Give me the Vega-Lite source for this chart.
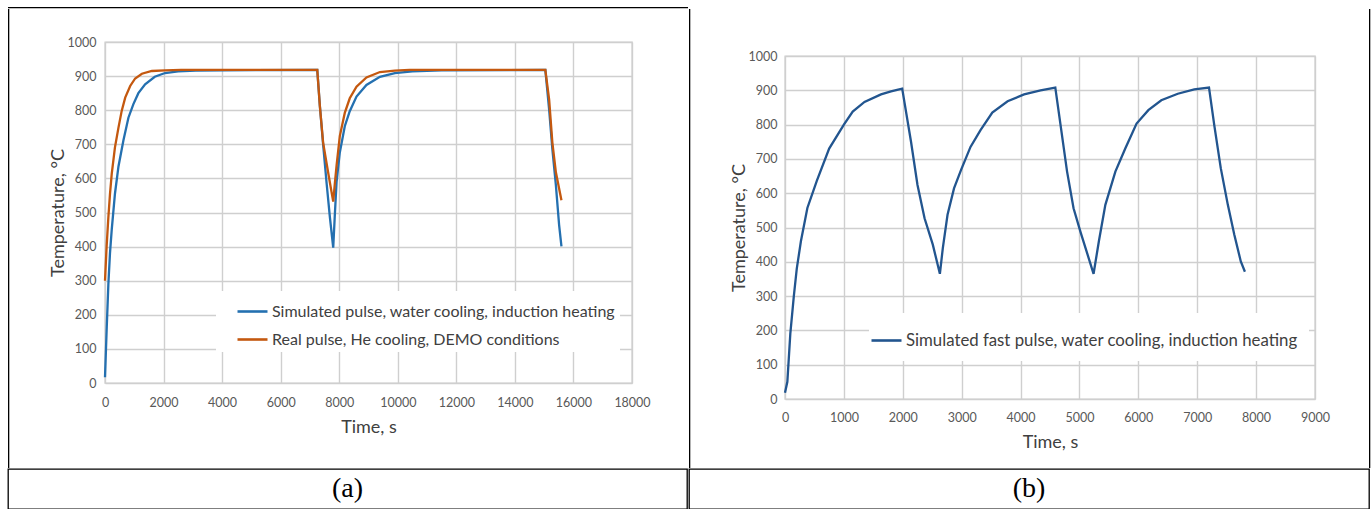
{
  "$schema": "https://vega.github.io/schema/vega-lite/v6.json",
  "autosize": {"type": "pad"},
  "padding": {"left": 7, "top": 7, "right": 0, "bottom": 0},
  "background": "white",
  "config": {
    "font": "Lato",
    "view": {"stroke": "#cfcfcf", "strokeWidth": 1.4},
    "axis": {
      "grid": true, "gridColor": "#cfcfcf", "gridWidth": 1.4,
      "domain": false, "ticks": false, "labelFlush": false,
      "labelColor": "#595959", "labelFont": "Lato", "labelFontSize": 12.5,
      "titleFont": "Lato", "titleFontSize": 18, "titleFontWeight": "normal", "titleColor": "#404040"
    },
    "legend": {
      "labelFont": "Lato", "labelFontSize": 16, "labelColor": "#404040", "labelLimit": 600,
      "symbolType": "stroke", "symbolStrokeWidth": 2.6, "fillColor": "white", "title": null
    }
  },
  "datasets": {
    "a": [
      {"series": "Simulated pulse, water cooling, induction heating", "time": 0, "temp": 17},
      {"series": "Simulated pulse, water cooling, induction heating", "time": 30, "temp": 90},
      {"series": "Simulated pulse, water cooling, induction heating", "time": 60, "temp": 165},
      {"series": "Simulated pulse, water cooling, induction heating", "time": 115, "temp": 290},
      {"series": "Simulated pulse, water cooling, induction heating", "time": 170, "temp": 380},
      {"series": "Simulated pulse, water cooling, induction heating", "time": 230, "temp": 450},
      {"series": "Simulated pulse, water cooling, induction heating", "time": 340, "temp": 555},
      {"series": "Simulated pulse, water cooling, induction heating", "time": 460, "temp": 635},
      {"series": "Simulated pulse, water cooling, induction heating", "time": 630, "temp": 712},
      {"series": "Simulated pulse, water cooling, induction heating", "time": 800, "temp": 778},
      {"series": "Simulated pulse, water cooling, induction heating", "time": 970, "temp": 818},
      {"series": "Simulated pulse, water cooling, induction heating", "time": 1140, "temp": 850},
      {"series": "Simulated pulse, water cooling, induction heating", "time": 1370, "temp": 876},
      {"series": "Simulated pulse, water cooling, induction heating", "time": 1700, "temp": 898},
      {"series": "Simulated pulse, water cooling, induction heating", "time": 2050, "temp": 909},
      {"series": "Simulated pulse, water cooling, induction heating", "time": 2500, "temp": 914},
      {"series": "Simulated pulse, water cooling, induction heating", "time": 3100, "temp": 916},
      {"series": "Simulated pulse, water cooling, induction heating", "time": 4000, "temp": 917},
      {"series": "Simulated pulse, water cooling, induction heating", "time": 7250, "temp": 918},
      {"series": "Simulated pulse, water cooling, induction heating", "time": 7340, "temp": 811},
      {"series": "Simulated pulse, water cooling, induction heating", "time": 7450, "temp": 700},
      {"series": "Simulated pulse, water cooling, induction heating", "time": 7570, "temp": 585},
      {"series": "Simulated pulse, water cooling, induction heating", "time": 7680, "temp": 487},
      {"series": "Simulated pulse, water cooling, induction heating", "time": 7795, "temp": 397},
      {"series": "Simulated pulse, water cooling, induction heating", "time": 7850, "temp": 493},
      {"series": "Simulated pulse, water cooling, induction heating", "time": 7910, "temp": 590},
      {"series": "Simulated pulse, water cooling, induction heating", "time": 8020, "temp": 676},
      {"series": "Simulated pulse, water cooling, induction heating", "time": 8190, "temp": 753},
      {"series": "Simulated pulse, water cooling, induction heating", "time": 8360, "temp": 797},
      {"series": "Simulated pulse, water cooling, induction heating", "time": 8590, "temp": 840},
      {"series": "Simulated pulse, water cooling, induction heating", "time": 8930, "temp": 874},
      {"series": "Simulated pulse, water cooling, induction heating", "time": 9390, "temp": 898},
      {"series": "Simulated pulse, water cooling, induction heating", "time": 9900, "temp": 909},
      {"series": "Simulated pulse, water cooling, induction heating", "time": 10500, "temp": 914},
      {"series": "Simulated pulse, water cooling, induction heating", "time": 11500, "temp": 917},
      {"series": "Simulated pulse, water cooling, induction heating", "time": 15040, "temp": 918},
      {"series": "Simulated pulse, water cooling, induction heating", "time": 15170, "temp": 802},
      {"series": "Simulated pulse, water cooling, induction heating", "time": 15280, "temp": 686},
      {"series": "Simulated pulse, water cooling, induction heating", "time": 15400, "temp": 580},
      {"series": "Simulated pulse, water cooling, induction heating", "time": 15510, "temp": 464},
      {"series": "Simulated pulse, water cooling, induction heating", "time": 15590, "temp": 401},
      {"series": "Real pulse, He cooling, DEMO conditions", "time": 0, "temp": 300},
      {"series": "Real pulse, He cooling, DEMO conditions", "time": 55, "temp": 400},
      {"series": "Real pulse, He cooling, DEMO conditions", "time": 115, "temp": 486},
      {"series": "Real pulse, He cooling, DEMO conditions", "time": 170, "temp": 554},
      {"series": "Real pulse, He cooling, DEMO conditions", "time": 230, "temp": 613},
      {"series": "Real pulse, He cooling, DEMO conditions", "time": 340, "temp": 691},
      {"series": "Real pulse, He cooling, DEMO conditions", "time": 460, "temp": 749},
      {"series": "Real pulse, He cooling, DEMO conditions", "time": 570, "temp": 798},
      {"series": "Real pulse, He cooling, DEMO conditions", "time": 690, "temp": 837},
      {"series": "Real pulse, He cooling, DEMO conditions", "time": 860, "temp": 871},
      {"series": "Real pulse, He cooling, DEMO conditions", "time": 1030, "temp": 893},
      {"series": "Real pulse, He cooling, DEMO conditions", "time": 1260, "temp": 907},
      {"series": "Real pulse, He cooling, DEMO conditions", "time": 1600, "temp": 915},
      {"series": "Real pulse, He cooling, DEMO conditions", "time": 2050, "temp": 917},
      {"series": "Real pulse, He cooling, DEMO conditions", "time": 2600, "temp": 918},
      {"series": "Real pulse, He cooling, DEMO conditions", "time": 7250, "temp": 918},
      {"series": "Real pulse, He cooling, DEMO conditions", "time": 7340, "temp": 811},
      {"series": "Real pulse, He cooling, DEMO conditions", "time": 7450, "temp": 705},
      {"series": "Real pulse, He cooling, DEMO conditions", "time": 7620, "temp": 618},
      {"series": "Real pulse, He cooling, DEMO conditions", "time": 7795, "temp": 532},
      {"series": "Real pulse, He cooling, DEMO conditions", "time": 7850, "temp": 585},
      {"series": "Real pulse, He cooling, DEMO conditions", "time": 7910, "temp": 638},
      {"series": "Real pulse, He cooling, DEMO conditions", "time": 8020, "temp": 724},
      {"series": "Real pulse, He cooling, DEMO conditions", "time": 8190, "temp": 792},
      {"series": "Real pulse, He cooling, DEMO conditions", "time": 8360, "temp": 835},
      {"series": "Real pulse, He cooling, DEMO conditions", "time": 8590, "temp": 869},
      {"series": "Real pulse, He cooling, DEMO conditions", "time": 8930, "temp": 896},
      {"series": "Real pulse, He cooling, DEMO conditions", "time": 9390, "temp": 912},
      {"series": "Real pulse, He cooling, DEMO conditions", "time": 9900, "temp": 916},
      {"series": "Real pulse, He cooling, DEMO conditions", "time": 10400, "temp": 918},
      {"series": "Real pulse, He cooling, DEMO conditions", "time": 15040, "temp": 918},
      {"series": "Real pulse, He cooling, DEMO conditions", "time": 15170, "temp": 831},
      {"series": "Real pulse, He cooling, DEMO conditions", "time": 15280, "temp": 705},
      {"series": "Real pulse, He cooling, DEMO conditions", "time": 15400, "temp": 618},
      {"series": "Real pulse, He cooling, DEMO conditions", "time": 15590, "temp": 536}
    ],
    "b": [
      {"series": "Simulated fast pulse, water cooling, induction heating", "time": 0, "temp": 18},
      {"series": "Simulated fast pulse, water cooling, induction heating", "time": 40, "temp": 50},
      {"series": "Simulated fast pulse, water cooling, induction heating", "time": 90, "temp": 190},
      {"series": "Simulated fast pulse, water cooling, induction heating", "time": 150, "temp": 300},
      {"series": "Simulated fast pulse, water cooling, induction heating", "time": 200, "temp": 380},
      {"series": "Simulated fast pulse, water cooling, induction heating", "time": 270, "temp": 460},
      {"series": "Simulated fast pulse, water cooling, induction heating", "time": 380, "temp": 557},
      {"series": "Simulated fast pulse, water cooling, induction heating", "time": 540, "temp": 636},
      {"series": "Simulated fast pulse, water cooling, induction heating", "time": 750, "temp": 730},
      {"series": "Simulated fast pulse, water cooling, induction heating", "time": 1000, "temp": 800},
      {"series": "Simulated fast pulse, water cooling, induction heating", "time": 1150, "temp": 838},
      {"series": "Simulated fast pulse, water cooling, induction heating", "time": 1350, "temp": 866},
      {"series": "Simulated fast pulse, water cooling, induction heating", "time": 1630, "temp": 888},
      {"series": "Simulated fast pulse, water cooling, induction heating", "time": 1800, "temp": 897},
      {"series": "Simulated fast pulse, water cooling, induction heating", "time": 1990, "temp": 905},
      {"series": "Simulated fast pulse, water cooling, induction heating", "time": 2140, "temp": 750},
      {"series": "Simulated fast pulse, water cooling, induction heating", "time": 2250, "temp": 624},
      {"series": "Simulated fast pulse, water cooling, induction heating", "time": 2370, "temp": 527},
      {"series": "Simulated fast pulse, water cooling, induction heating", "time": 2510, "temp": 450},
      {"series": "Simulated fast pulse, water cooling, induction heating", "time": 2630, "temp": 365},
      {"series": "Simulated fast pulse, water cooling, induction heating", "time": 2680, "temp": 440},
      {"series": "Simulated fast pulse, water cooling, induction heating", "time": 2760, "temp": 537},
      {"series": "Simulated fast pulse, water cooling, induction heating", "time": 2870, "temp": 614},
      {"series": "Simulated fast pulse, water cooling, induction heating", "time": 2990, "temp": 668},
      {"series": "Simulated fast pulse, water cooling, induction heating", "time": 3150, "temp": 735},
      {"series": "Simulated fast pulse, water cooling, induction heating", "time": 3320, "temp": 784},
      {"series": "Simulated fast pulse, water cooling, induction heating", "time": 3520, "temp": 835},
      {"series": "Simulated fast pulse, water cooling, induction heating", "time": 3780, "temp": 868},
      {"series": "Simulated fast pulse, water cooling, induction heating", "time": 4060, "temp": 888},
      {"series": "Simulated fast pulse, water cooling, induction heating", "time": 4340, "temp": 900},
      {"series": "Simulated fast pulse, water cooling, induction heating", "time": 4590, "temp": 908},
      {"series": "Simulated fast pulse, water cooling, induction heating", "time": 4680, "temp": 798},
      {"series": "Simulated fast pulse, water cooling, induction heating", "time": 4790, "temp": 663},
      {"series": "Simulated fast pulse, water cooling, induction heating", "time": 4900, "temp": 556},
      {"series": "Simulated fast pulse, water cooling, induction heating", "time": 5020, "temp": 486},
      {"series": "Simulated fast pulse, water cooling, induction heating", "time": 5240, "temp": 365},
      {"series": "Simulated fast pulse, water cooling, induction heating", "time": 5330, "temp": 460},
      {"series": "Simulated fast pulse, water cooling, induction heating", "time": 5440, "temp": 566},
      {"series": "Simulated fast pulse, water cooling, induction heating", "time": 5610, "temp": 663},
      {"series": "Simulated fast pulse, water cooling, induction heating", "time": 5780, "temp": 731},
      {"series": "Simulated fast pulse, water cooling, induction heating", "time": 5970, "temp": 803},
      {"series": "Simulated fast pulse, water cooling, induction heating", "time": 6170, "temp": 842},
      {"series": "Simulated fast pulse, water cooling, induction heating", "time": 6390, "temp": 871},
      {"series": "Simulated fast pulse, water cooling, induction heating", "time": 6670, "temp": 890},
      {"series": "Simulated fast pulse, water cooling, induction heating", "time": 6950, "temp": 903},
      {"series": "Simulated fast pulse, water cooling, induction heating", "time": 7200, "temp": 908},
      {"series": "Simulated fast pulse, water cooling, induction heating", "time": 7290, "temp": 798},
      {"series": "Simulated fast pulse, water cooling, induction heating", "time": 7400, "temp": 673},
      {"series": "Simulated fast pulse, water cooling, induction heating", "time": 7520, "temp": 566},
      {"series": "Simulated fast pulse, water cooling, induction heating", "time": 7630, "temp": 479},
      {"series": "Simulated fast pulse, water cooling, induction heating", "time": 7740, "temp": 401},
      {"series": "Simulated fast pulse, water cooling, induction heating", "time": 7810, "temp": 371}
    ],
    "capA": [{"label": "(a)"}],
    "capB": [{"label": "(b)"}],
    "none": []
  },
  "align": "none",
  "spacing": 0,
  "vconcat": [
    {
      "width": 680, "height": 1.3,
      "view": {"fill": "black", "stroke": null},
      "data": {"name": "none"},
      "mark": "point"
    },
    {
      "align": "none",
      "spacing": 38,
      "resolve": {"scale": {"color": "independent"}, "legend": {"color": "independent"}},
      "hconcat": [
        {
          "width": 1.3, "height": 459,
          "view": {"fill": "black", "stroke": null},
          "data": {"name": "none"},
          "mark": "point"
        },
        {
          "spacing": 25,
          "vconcat": [
            {
              "width": 1, "height": 0.01,
              "view": {"stroke": null},
              "data": {"name": "none"},
              "mark": "point"
            },
            {
              "width": 527, "height": 341,
              "data": {"name": "a"},
              "mark": {"type": "line", "strokeWidth": 2.3},
              "encoding": {
                "x": {"field": "time", "type": "quantitative", "title": "Time, s",
                      "scale": {"domain": [0, 18000], "nice": false},
                      "axis": {"values": [0, 2000, 4000, 6000, 8000, 10000, 12000, 14000, 16000, 18000], "format": "d", "labelPadding": 13, "titlePadding": 10}},
                "y": {"field": "temp", "type": "quantitative", "title": "Temperature, °C",
                      "scale": {"domain": [0, 1000], "nice": false},
                      "axis": {"values": [0, 100, 200, 300, 400, 500, 600, 700, 800, 900, 1000], "format": "d", "labelPadding": 9, "titlePadding": 0}},
                "color": {"field": "series", "type": "nominal",
                          "scale": {"domain": ["Simulated pulse, water cooling, induction heating", "Real pulse, He cooling, DEMO conditions"], "range": ["#2470b0", "#c4580f"]},
                          "legend": {"orient": "none", "legendX": 111, "legendY": 282, "padding": 4, "symbolOffset": 16, "symbolSize": 900, "rowPadding": 3, "labelOffset": 3}}
              }
            }
          ]
        },
        {
          "width": 1.3, "height": 459,
          "view": {"fill": "black", "stroke": null},
          "data": {"name": "none"},
          "mark": "point"
        },
        {
          "spacing": 39,
          "vconcat": [
            {
              "width": 1, "height": 0.01,
              "view": {"stroke": null},
              "data": {"name": "none"},
              "mark": "point"
            },
            {
              "width": 530, "height": 343,
              "data": {"name": "b"},
              "mark": {"type": "line", "strokeWidth": 2.3},
              "encoding": {
                "x": {"field": "time", "type": "quantitative", "title": "Time, s",
                      "scale": {"domain": [0, 9000], "nice": false},
                      "axis": {"values": [0, 1000, 2000, 3000, 4000, 5000, 6000, 7000, 8000, 9000], "format": "d", "labelPadding": 12, "titlePadding": 10}},
                "y": {"field": "temp", "type": "quantitative", "title": "Temperature, °C",
                      "scale": {"domain": [0, 1000], "nice": false},
                      "axis": {"values": [0, 100, 200, 300, 400, 500, 600, 700, 800, 900, 1000], "format": "d", "labelPadding": 8, "titlePadding": 0}},
                "color": {"field": "series", "type": "nominal",
                          "scale": {"domain": ["Simulated fast pulse, water cooling, induction heating"], "range": ["#22558f"]},
                          "legend": {"orient": "none", "legendX": 84, "legendY": 304, "padding": 11, "symbolOffset": -10, "symbolSize": 900, "labelOffset": 3, "labelFontSize": 16.8}}
              }
            }
          ]
        },
        {
          "width": 1.3, "height": 459,
          "view": {"fill": "black", "stroke": null},
          "data": {"name": "none"},
          "mark": "point"
        }
      ]
    },
    {
      "align": "none",
      "spacing": 0,
      "hconcat": [
        {
          "width": 679, "height": 40,
          "view": {"stroke": "black", "strokeWidth": 1.3},
          "data": {"name": "capA"},
          "mark": {"type": "text", "font": "Liberation Serif", "fontSize": 28, "color": "black", "baseline": "middle"},
          "encoding": {"text": {"field": "label"}}
        },
        {
          "width": 680, "height": 40,
          "view": {"stroke": "black", "strokeWidth": 1.3},
          "data": {"name": "capB"},
          "mark": {"type": "text", "font": "Liberation Serif", "fontSize": 28, "color": "black", "baseline": "middle"},
          "encoding": {"text": {"field": "label"}}
        }
      ]
    }
  ]
}
